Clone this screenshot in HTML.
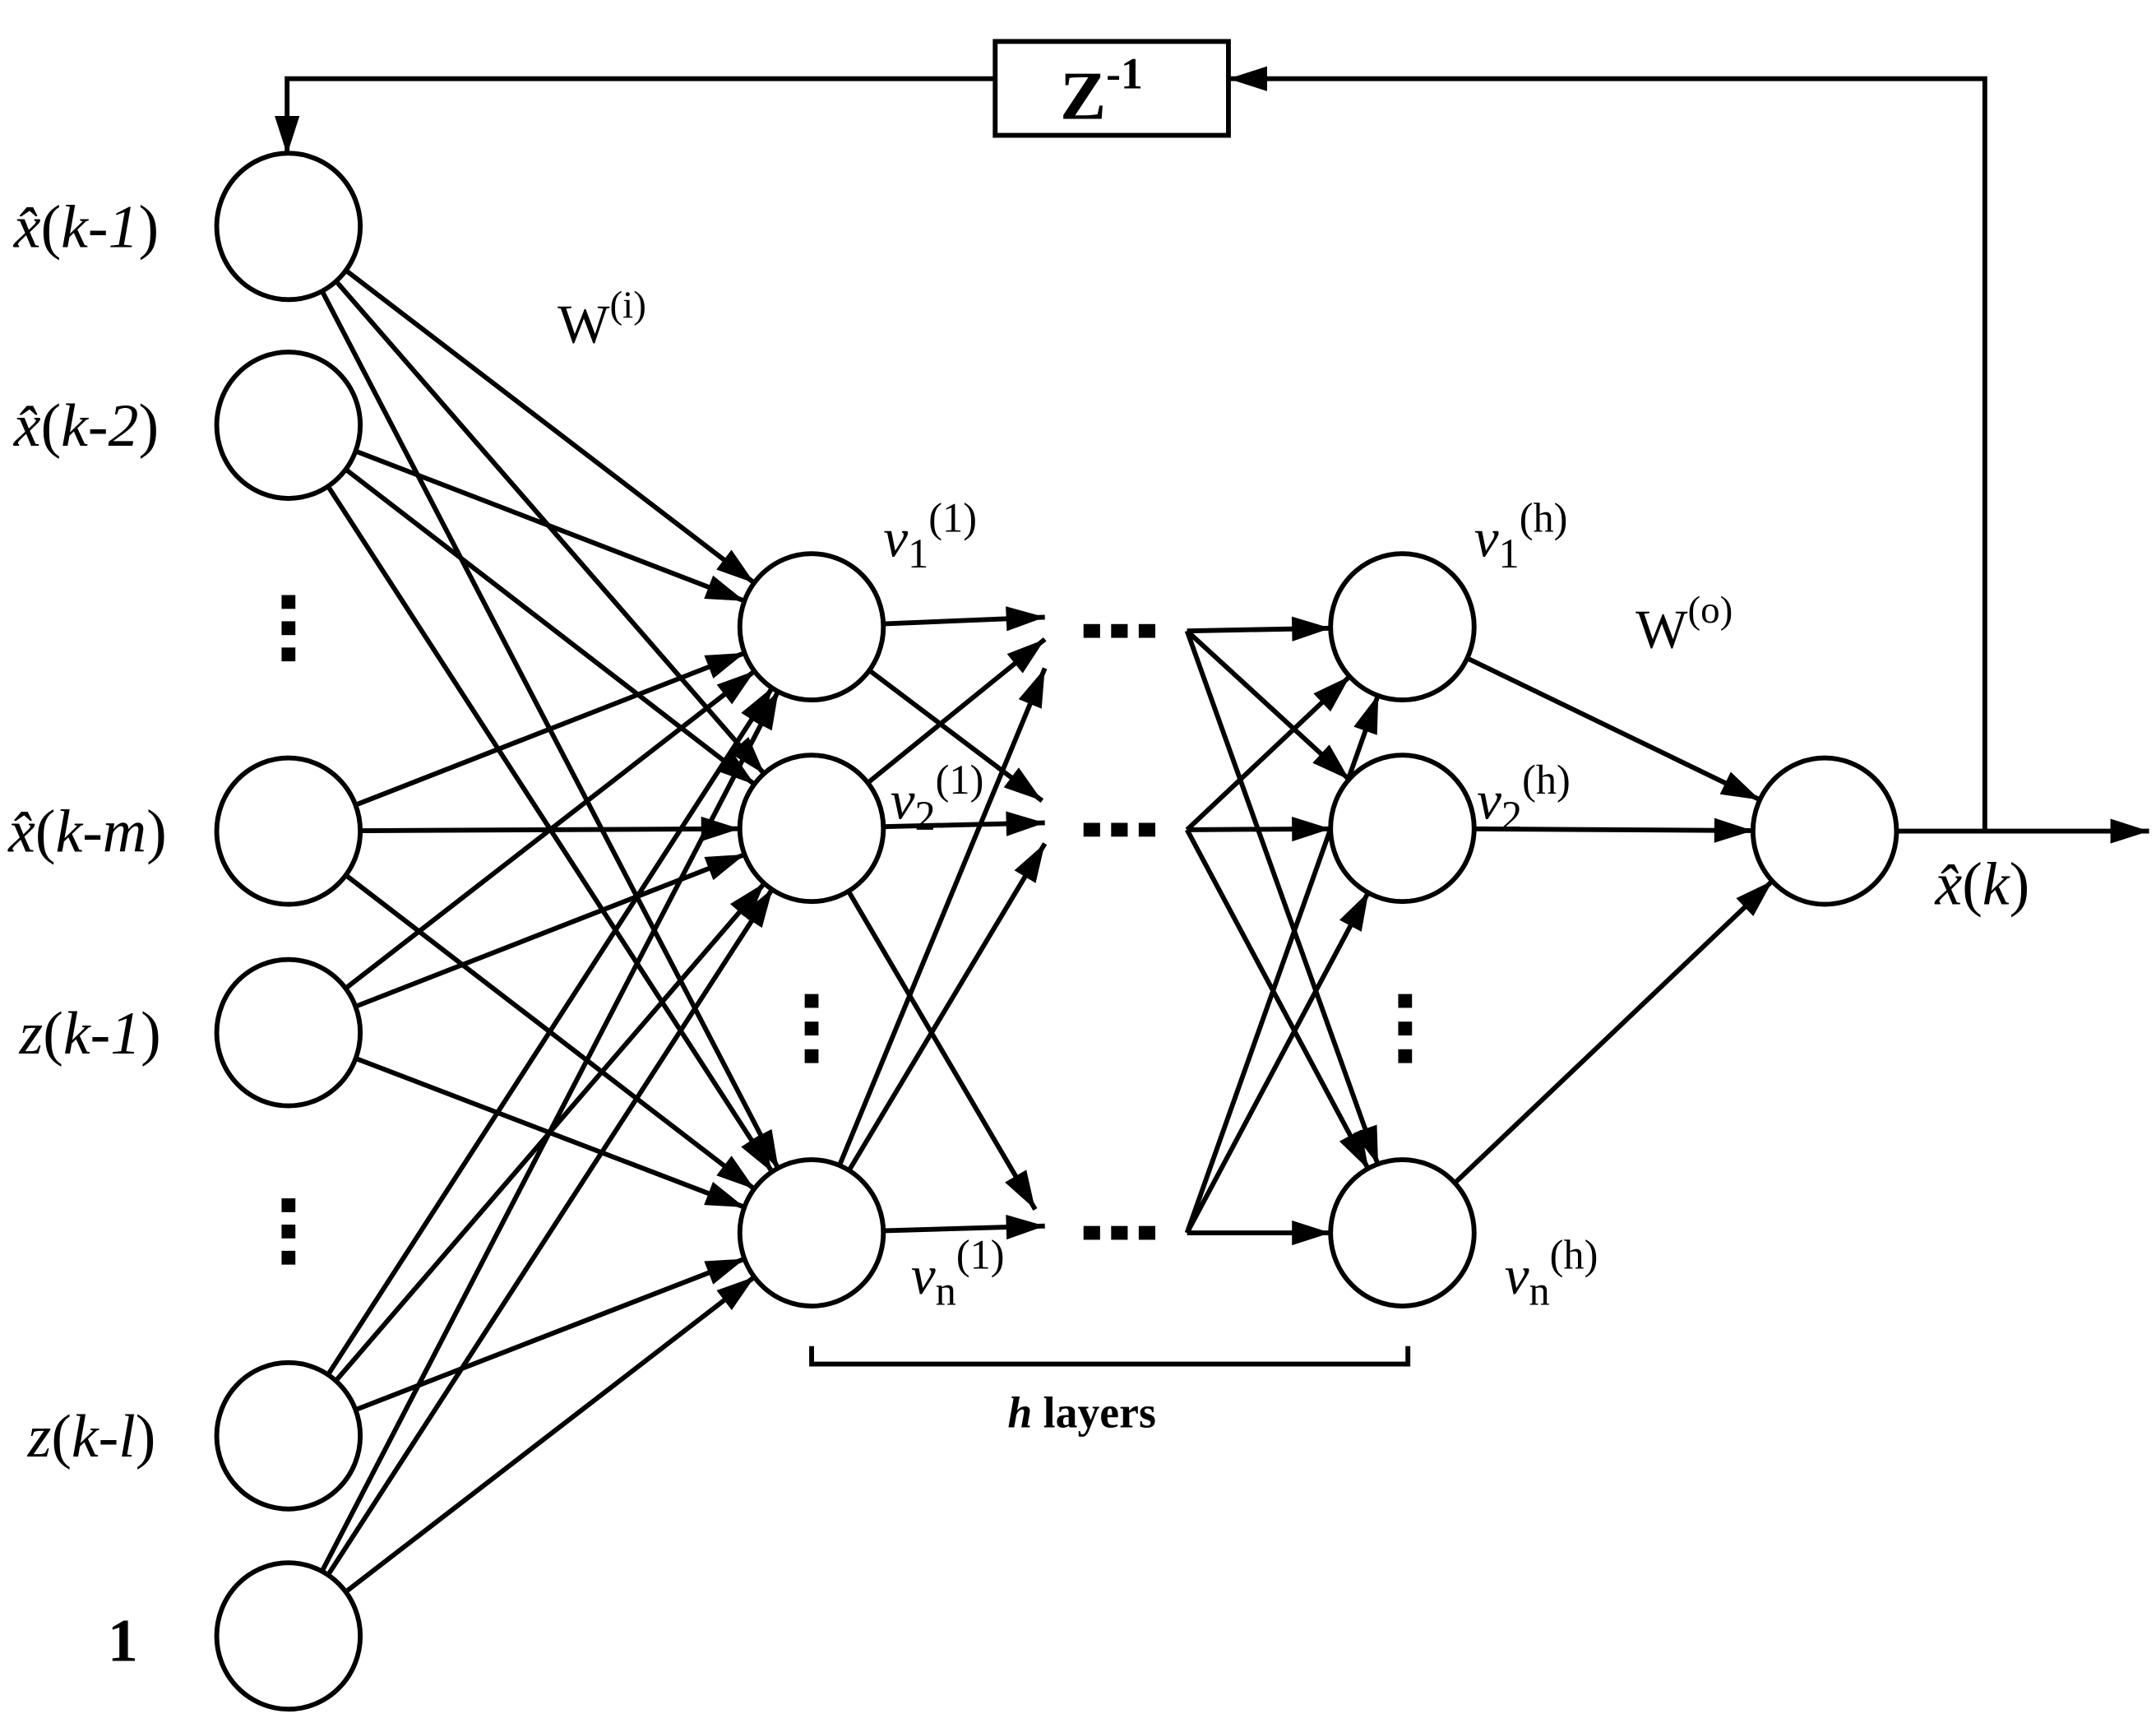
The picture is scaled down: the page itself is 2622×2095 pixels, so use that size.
<!DOCTYPE html>
<html><head><meta charset="utf-8"><style>
html,body{margin:0;padding:0;background:#fff}
svg{display:block}
text{font-family:"Liberation Serif",serif;fill:#000}
</style></head><body>
<svg width="2622" height="2095" viewBox="0 0 1562 1248" xmlns="http://www.w3.org/2000/svg">
<defs>
<marker id="ac" markerUnits="userSpaceOnUse" markerWidth="120" markerHeight="30" refX="80" refY="9" orient="auto" overflow="visible"><path d="M0,0 L28,9 L0,18 z" fill="#000"/></marker>
<marker id="ap" markerUnits="userSpaceOnUse" markerWidth="30" markerHeight="30" refX="28" refY="9" orient="auto" overflow="visible"><path d="M0,0 L28,9 L0,18 z" fill="#000"/></marker>
</defs>
<g stroke="#000" stroke-width="3.5" fill="none">
<g marker-end="url(#ac)">
<line x1="209" y1="164" x2="588" y2="454"/><line x1="209" y1="164" x2="588" y2="600"/><line x1="209" y1="164" x2="588" y2="893"/>
<line x1="209" y1="308" x2="588" y2="454"/><line x1="209" y1="308" x2="588" y2="600"/><line x1="209" y1="308" x2="588" y2="893"/>
<line x1="209" y1="602" x2="588" y2="454"/><line x1="209" y1="602" x2="588" y2="600"/><line x1="209" y1="602" x2="588" y2="893"/>
<line x1="209" y1="748" x2="588" y2="454"/><line x1="209" y1="748" x2="588" y2="600"/><line x1="209" y1="748" x2="588" y2="893"/>
<line x1="209" y1="1040" x2="588" y2="454"/><line x1="209" y1="1040" x2="588" y2="600"/><line x1="209" y1="1040" x2="588" y2="893"/>
<line x1="209" y1="1185" x2="588" y2="454"/><line x1="209" y1="1185" x2="588" y2="600"/><line x1="209" y1="1185" x2="588" y2="893"/>
</g>
<g marker-end="url(#ap)">
<line x1="588" y1="454" x2="757" y2="447"/><line x1="588" y1="454" x2="755" y2="580"/>
<line x1="588" y1="600" x2="757" y2="463"/><line x1="588" y1="600" x2="757" y2="596"/><line x1="588" y1="600" x2="750" y2="876"/>
<line x1="588" y1="893" x2="757" y2="484"/><line x1="588" y1="893" x2="757" y2="611"/><line x1="588" y1="893" x2="757" y2="888"/>
</g>
<g marker-end="url(#ac)">
<line x1="860" y1="457" x2="1016" y2="454"/><line x1="860" y1="457" x2="1016" y2="600"/><line x1="860" y1="457" x2="1016" y2="893"/>
<line x1="860" y1="601" x2="1016" y2="454"/><line x1="860" y1="601" x2="1016" y2="600"/><line x1="860" y1="601" x2="1016" y2="893"/>
<line x1="860" y1="893" x2="1016" y2="454"/><line x1="860" y1="893" x2="1016" y2="600"/><line x1="860" y1="893" x2="1016" y2="893"/>
<line x1="1016" y1="454" x2="1322" y2="602"/><line x1="1016" y1="600" x2="1322" y2="602"/><line x1="1016" y1="893" x2="1322" y2="602"/>
</g>
<line x1="1322" y1="602" x2="1557" y2="602" marker-end="url(#ap)"/>
<polyline points="1438,602 1438,57 890,57" marker-end="url(#ap)"/>
<polyline points="721,57 208,57 208,112" marker-end="url(#ap)"/>
<rect x="721" y="30" width="169" height="68"/>
<polyline points="588,975 588,988 1020,988 1020,975"/>
</g>
<g fill="#fff" stroke="#000" stroke-width="3.5">
<ellipse cx="209" cy="164" rx="52" ry="53"/><ellipse cx="209" cy="308" rx="52" ry="53"/>
<ellipse cx="209" cy="602" rx="52" ry="53"/><ellipse cx="209" cy="748" rx="52" ry="53"/>
<ellipse cx="209" cy="1040" rx="52" ry="53"/><ellipse cx="209" cy="1185" rx="52" ry="53"/>
<ellipse cx="588" cy="454" rx="52" ry="53"/><ellipse cx="588" cy="600" rx="52" ry="53"/><ellipse cx="588" cy="893" rx="52" ry="53"/>
<ellipse cx="1016" cy="454" rx="52" ry="53"/><ellipse cx="1016" cy="600" rx="52" ry="53"/><ellipse cx="1016" cy="893" rx="52" ry="53"/>
<ellipse cx="1322" cy="602" rx="52" ry="53"/>
</g>
<g fill="#000">
<rect x="204" y="431" width="10" height="10"/><rect x="204" y="450" width="10" height="10"/><rect x="204" y="469" width="10" height="10"/>
<rect x="204" y="868" width="10" height="10"/><rect x="204" y="887" width="10" height="10"/><rect x="204" y="906" width="10" height="10"/>
<rect x="583" y="720" width="10" height="10"/><rect x="583" y="740" width="10" height="10"/><rect x="583" y="760" width="10" height="10"/>
<rect x="1013" y="720" width="10" height="10"/><rect x="1013" y="740" width="10" height="10"/><rect x="1013" y="760" width="10" height="10"/>
<rect x="785" y="452" width="12" height="10"/><rect x="805" y="452" width="12" height="10"/><rect x="825" y="452" width="12" height="10"/>
<rect x="785" y="596" width="12" height="10"/><rect x="805" y="596" width="12" height="10"/><rect x="825" y="596" width="12" height="10"/>
<rect x="785" y="888" width="12" height="10"/><rect x="805" y="888" width="12" height="10"/><rect x="825" y="888" width="12" height="10"/>
</g>
<g font-size="44">
<text x="10" y="179"><tspan font-style="italic">x̂</tspan>(<tspan font-style="italic">k-1</tspan>)</text>
<text x="10" y="323"><tspan font-style="italic">x̂</tspan>(<tspan font-style="italic">k-2</tspan>)</text>
<text x="6" y="617"><tspan font-style="italic">x̂</tspan>(<tspan font-style="italic">k-m</tspan>)</text>
<text x="14" y="763"><tspan font-style="italic">z</tspan>(<tspan font-style="italic">k-1</tspan>)</text>
<text x="20" y="1055"><tspan font-style="italic">z</tspan>(<tspan font-style="italic">k-l</tspan>)</text>
<text x="78" y="1203" font-weight="bold">1</text>
<text x="1402" y="655"><tspan font-style="italic">x̂</tspan>(<tspan font-style="italic">k</tspan>)</text>
<text x="404" y="248" font-size="40">W<tspan font-size="28" dy="-18">(i)</tspan></text>
<text x="1185" y="469" font-size="40">W<tspan font-size="28" dy="-18">(o)</tspan></text>
<text x="640" y="403" font-size="40"><tspan font-style="italic">v</tspan><tspan font-size="30" dy="8">1</tspan><tspan font-size="30" dy="-26">(1)</tspan></text>
<text x="645" y="593" font-size="40"><tspan font-style="italic">v</tspan><tspan font-size="30" dy="8">2</tspan><tspan font-size="30" dy="-26">(1)</tspan></text>
<text x="660" y="937" font-size="40"><tspan font-style="italic">v</tspan><tspan font-size="30" dy="8">n</tspan><tspan font-size="30" dy="-26">(1)</tspan></text>
<text x="1068" y="403" font-size="40"><tspan font-style="italic">v</tspan><tspan font-size="30" dy="8">1</tspan><tspan font-size="30" dy="-26">(h)</tspan></text>
<text x="1070" y="593" font-size="40"><tspan font-style="italic">v</tspan><tspan font-size="30" dy="8">2</tspan><tspan font-size="30" dy="-26">(h)</tspan></text>
<text x="1090" y="937" font-size="40"><tspan font-style="italic">v</tspan><tspan font-size="30" dy="8">n</tspan><tspan font-size="30" dy="-26">(h)</tspan></text>
<text x="768" y="86" font-weight="bold" font-size="50">Z<tspan font-size="32" dy="-22">-1</tspan></text>
<text x="730" y="1034" font-weight="bold" font-size="32"><tspan font-style="italic">h</tspan> layers</text>
</g>
</svg>
</body></html>
